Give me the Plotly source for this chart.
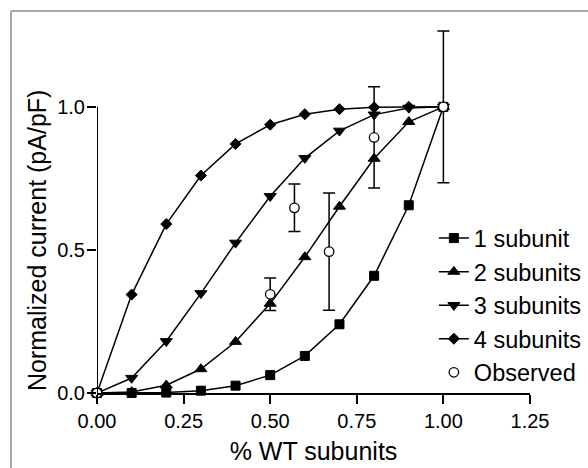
import plotly.graph_objects as go

# ---- data ----
wt_fraction = [0.0, 0.1, 0.2, 0.3, 0.4, 0.5, 0.6, 0.7, 0.8, 0.9, 1.0]
one_subunit = [0.0, 0.0001, 0.0016, 0.0081, 0.0256, 0.0625, 0.1296, 0.2401, 0.4096, 0.6561, 1.0]
two_subunits = [0.0, 0.0037, 0.0272, 0.0837, 0.1792, 0.3125, 0.4752, 0.6517, 0.8192, 0.9477, 1.0]
three_subunits = [0.0, 0.0523, 0.1808, 0.3483, 0.5248, 0.6875, 0.8208, 0.9163, 0.9728, 0.9963, 1.0]
four_subunits = [0.0, 0.3439, 0.5904, 0.7599, 0.8704, 0.9375, 0.9744, 0.9919, 0.9984, 0.9999, 1.0]

obs_x = [0.0, 0.5, 0.57, 0.67, 0.8, 1.0]
obs_y = [0.0, 0.345, 0.647, 0.494, 0.893, 1.0]
obs_err = [0.0, 0.057, 0.083, 0.205, 0.177, 0.265]

x_ticks = [0.0, 0.25, 0.5, 0.75, 1.0, 1.25]
x_tick_text = ["0.00", "0.25", "0.50", "0.75", "1.00", "1.25"]
y_ticks = [0.0, 0.5, 1.0]
y_tick_text = ["0.0", "0.5", "1.0"]

x_title = "% WT subunits"
y_title = "Normalized current (pA/pF)"

FONT = "Liberation Sans, Arial, Helvetica, sans-serif"

fig = go.Figure()

series = [
    ("1 subunit", one_subunit, "square", 9),
    ("2 subunits", two_subunits, "triangle-up", 10.5),
    ("3 subunits", three_subunits, "triangle-down", 10.5),
    ("4 subunits", four_subunits, "diamond", 8.5),
]
for name, vals, sym, sz in series:
    fig.add_trace(go.Scatter(
        x=wt_fraction, y=vals, name=name, mode="lines+markers",
        line=dict(color="black", width=1.5),
        marker=dict(symbol=sym, size=sz, color="black", line=dict(color="black", width=1)),
        cliponaxis=False,
    ))

fig.add_trace(go.Scatter(
    x=obs_x, y=obs_y, name="Observed", mode="markers",
    marker=dict(symbol="circle", size=9.5, color="white", line=dict(color="black", width=1.3)),
    error_y=dict(type="data", array=obs_err, visible=True, color="black", thickness=1.5, width=6),
    cliponaxis=False,
))

fig.update_layout(
    template="none",
    width=588, height=468,
    margin=dict(l=97, r=58, t=21, b=75, autoexpand=False),
    paper_bgcolor="white", plot_bgcolor="white",
    font=dict(family=FONT, color="black", size=20),
    showlegend=True,
    legend=dict(
        x=0.778, y=0.475, xanchor="left", yanchor="top",
        bgcolor="rgba(0,0,0,0)", borderwidth=0, font=dict(size=23.5, family=FONT),
        traceorder="normal", itemwidth=30, tracegroupgap=0,
    ),
    xaxis=dict(
        range=[0, 1.25], tickvals=x_ticks, ticktext=x_tick_text,
        showline=True, linecolor="black", linewidth=2, automargin=False,
        ticks="outside", ticklen=9, tickwidth=2, tickcolor="black",
        showgrid=False, zeroline=False,
        tickfont=dict(size=20, family=FONT),
        title=dict(text=x_title, font=dict(size=25, family=FONT), standoff=11),
    ),
    yaxis=dict(
        range=[0, 1.3], tickvals=y_ticks, ticktext=y_tick_text,
        showline=False, automargin=False,
        ticks="outside", ticklen=9, tickwidth=2, tickcolor="black",
        showgrid=False, zeroline=False, ticklabelstandoff=-2,
        tickfont=dict(size=20, family=FONT),
    ),
)

# y-axis title, centred on the 0–1.0 span as in the reference
fig.add_annotation(
    text=y_title, textangle=-90, showarrow=False,
    xref="paper", yref="paper", x=-0.1386, y=0.411,
    xanchor="center", yanchor="middle",
    font=dict(size=25, family=FONT, color="black"),
)

# y-axis line drawn only from 0 to 1.0 (as in the reference)
fig.add_shape(type="line", xref="x", yref="y", x0=0, x1=0, y0=0, y1=1.0,
              line=dict(color="black", width=2), layer="above")

# outer gray frame (top and left edges visible)
fig.add_shape(type="line", xref="paper", yref="paper", x0=-0.1986, x1=1.2, y0=1.0269, y1=1.0269,
              line=dict(color="#a8a8a8", width=2))
fig.add_shape(type="line", xref="paper", yref="paper", x0=-0.1986, x1=-0.1986, y0=-0.3, y1=1.0269,
              line=dict(color="#a8a8a8", width=2))

fig.write_html("out.html")
